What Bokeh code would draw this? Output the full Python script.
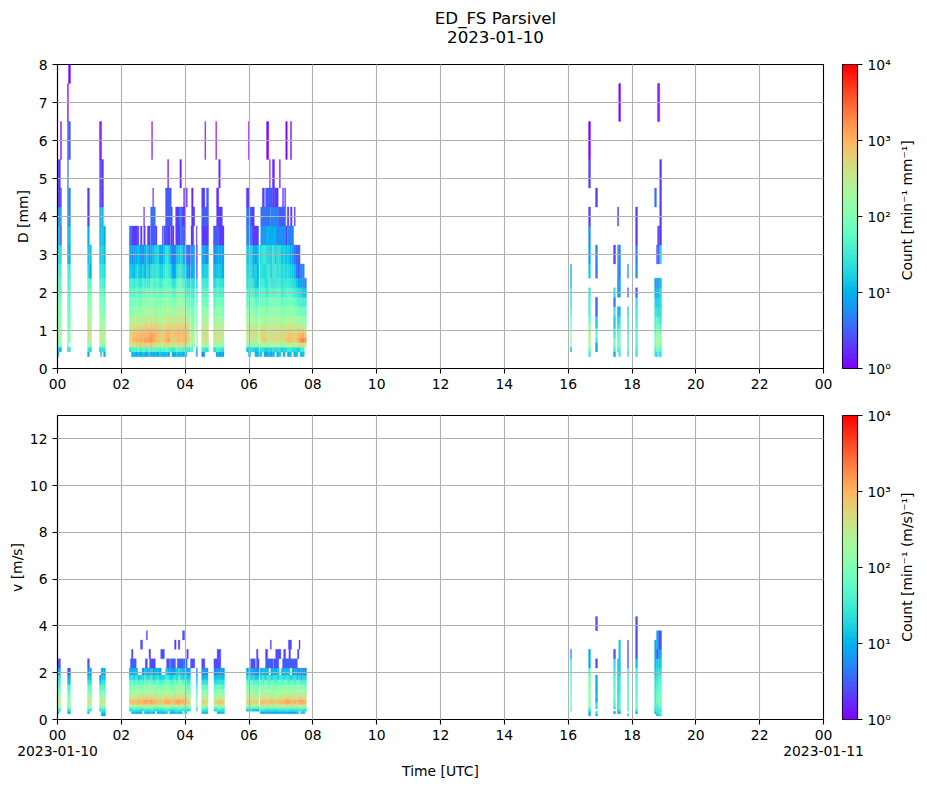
import math
import numpy as np
from bokeh.plotting import figure
from bokeh.layouts import column, row
from bokeh.models import LogColorMapper, LinearColorMapper, FixedTicker, Label, ColumnDataSource, Range1d
from bokeh.embed import file_html
from bokeh.resources import INLINE

# ---- bin edges (mm and m/s) and axis labels ----
d_edges = [0.312,0.437,0.562,0.687,0.812,0.937,1.062,1.187,1.375,1.625,1.875,2.125,2.375,2.75,3.25,3.75,4.25,4.75,5.5,6.5,7.5,8.5]
v_edges = [0.05,0.15,0.25,0.35,0.45,0.55,0.65,0.75,0.85,0.95,1.1,1.3,1.5,1.7,1.9,2.2,2.6,3.0,3.4,3.8,4.4]
x_hours = [0,2,4,6,8,10,12,14,16,18,20,22,24]
d_ticks = [0,1,2,3,4,5,6,7,8]
v_ticks = [0,2,4,6,8,10,12]
cb_ticks = [1,10,100,1000,10000]
cb_labels = ["10\u2070","10\u00b9","10\u00b2","10\u00b3","10\u2074"]

# ---- D panel: 02-04 UTC block, column start minute + counts from the lowest bin up ----
d_main_t = [135,139,143,147,151,155,159,163,167,171,175,179,183,187,191,195,199,203,207,211,215,219,223,227,231,235,239,243]
d_main_end = 247
d_main = [
[0,25,300,500,450,400,300,180,110,70,45,30,14,8],
[9,35,400,800,700,600,400,250,130,90,60,35,12,6],
[10,45,500,1000,800,700,450,280,140,80,45,25,10,7],
[7,40,450,1100,900,600,500,300,170,100,70,40,20,9],
[12,60,500,900,1000,650,400,260,150,110,60,30,16,12],
[8,35,600,1200,800,700,420,240,130,70,50,25,12,7],
[14,50,400,1000,900,750,500,320,180,120,70,45,18,6],
[9,45,700,1400,1100,800,550,300,190,100,55,30,10,9],
[7,30,500,1300,1000,900,600,350,170,110,80,35,22,14],
[16,55,600,1500,1200,900,500,330,200,120,60,28,12,6],
[10,40,800,1600,1400,1000,650,400,210,130,90,55,25,9],
[8,50,500,1300,1300,850,550,300,180,110,60,40,24,12],
[12,45,400,900,900,800,500,280,160,90,70,45,28,18],
[9,60,350,700,800,700,480,300,200,130,85,60,30,22],
[14,35,300,600,650,600,450,260,150,100,60,30,18,9],
[11,50,280,550,600,600,400,250,170,120,70,35,15,7],
[9,40,400,800,700,550,420,280,180,110,90,55,26,14],
[13,65,550,1100,1000,800,500,350,240,150,100,60,35,25],
[8,45,500,1300,1100,950,600,380,220,130,80,50,30,20],
[0,35,350,800,800,700,550,330,200,130,85,45,20,10],
[10,28,300,600,650,600,480,280,180,100,55,25,8,4],
[9,40,300,550,700,650,500,300,170,90,50,25,9,5],
[14,55,400,800,900,850,600,380,230,140,90,50,22,12],
[9,45,450,900,1000,800,600,400,250,170,110,70,35,14],
[12,40,400,800,850,700,550,360,220,150,100,60,28,18],
[8,35,500,1000,900,800,600,350,200,130,80,45,20,10],
[10,40,450,900,1000,850,650,400,240,130,70,35,12,5],
[0,30,300,700,700,600,450,260,130,70,40,22,8,4],
]
# ---- D panel: 06-08 UTC block, before and after the short break ----
d_six_a_t = [355,359,363,367,371,375]
d_six_a_end = 378.5
d_six_a = [
[0,15,120,250,350,300,250,180,110,60,40,25,20,15],
[9,12,150,300,400,350,280,200,130,70,45,28,14,10],
[0,20,130,350,450,400,300,220,140,90,50,30,22,18],
[0,18,120,300,400,420,320,210,120,75,40,22,12,9],
[11,15,140,300,380,360,270,180,100,60,30,14,18,8],
[10,14,100,220,300,280,240,170,100,50,30,12,10,12],
]
d_six_b_t = [380,384,388,392,396,400,404,408,412,416,420,424,428,432,436,440,444,448,452,456,460,464]
d_six_b_end = 468
d_six_b = [
[12,20,180,450,500,450,350,200,130,80,50,30,25,18],
[0,25,200,600,600,450,300,200,120,70,50,35,22,25],
[10,18,220,700,550,400,320,220,140,85,60,28,20,30],
[9,15,180,500,450,380,280,170,110,60,30,22,28,22],
[12,20,160,450,400,350,260,180,120,70,45,35,30,18],
[8,16,170,400,450,400,300,210,130,90,55,30,18,16],
[11,22,180,500,480,420,300,200,120,75,40,25,26,28],
[0,18,190,550,500,400,280,190,120,70,50,28,30,15],
[9,20,160,450,420,380,270,200,140,80,55,30,22,20],
[14,25,190,500,480,420,320,230,130,85,60,35,28,24],
[0,15,150,400,450,420,300,220,110,60,35,25,20,14],
[11,20,170,450,500,450,330,200,120,70,40,30,24,18],
[0,18,200,650,600,420,300,180,110,70,45,28,18,12],
[10,25,220,800,750,550,380,220,130,85,55,30,20,14],
[12,30,250,900,800,600,400,250,150,90,50,25,15,10],
[0,22,230,800,750,520,360,230,130,75,40,22,14,8],
[10,20,200,600,550,450,300,190,110,60,30,20,12,4],
[13,18,220,700,600,420,320,180,100,55,30,14,4,3],
[0,15,300,1200,900,500,300,170,90,40,25,10,3,3],
[11,30,400,1800,1000,500,280,150,70,40,20,8,5,0],
[13,30,500,2200,1300,600,300,150,80,35,15,7,5,0],
[0,0,300,1500,700,350,220,130,60,30,12,5,0,0],
]

# ---- D panel: short episodes, [start minute, end minute], counts from lowest bin up ----
d_short_t0 = [0.6,2.5,5.6,18.8,20.6,56.4,60,79,81,82.7,86.5,247,251,255,261,271,277,293,298,303,308,964.4,998.3,1011.4,1045.3,1052.8,1055,1071.6,1086.7,1122.4,1126,1128,1130,1132]
d_short_t1 = [2.5,5.6,7.5,20.6,24.4,60,64,81,82.7,86.5,90.3,250,255,258,263,277,284,298,303,308,313,966.3,1002,1015.2,1049,1055,1058.5,1073.5,1090.4,1126,1128,1130,1132,1135.6]
d_short = [
[9,25,120,200,220,200,180,150,120,90,70,60,45,25,12,8,2,2],
[0,12,100,180,200,180,150,130,110,90,70,55,40,22,14,7,2,2],
[0,10,80,120,140,120,110,100,80,70,50,45,30,18,2,6,2,0,1],
[0,20,60,100,100,90,80,70,60,55,45,40,30,9,9,5,5,4,3,1],
[0,25,0,100,120,110,90,80,70,60,50,40,30,10,12,6,5,0,3,0,1],
[10,30,150,300,400,400,300,250,180,120,80,60,25,14,10,2,2],
[0,20,120,250,350,300,250,200,150,110,80,50,9,14],
[0,8,130,220,260,220,170,130,100,70,50,35,20,10,8,6,2,2,1],
[9,30,150,300,350,300,220,160,110,80,60,40,25,15,10,12,2,2,1],
[0,20,130,280,300,260,200,160,120,90,65,40,25,18,15,12,2,2],
[10,25,100,200,250,220,180,130,100,70,50,30,20,12,9],
[0,28,150,350,350,300,250,180,100,60,35,20,5,3],
[0,40,120,250,250,220,170,120,90,60,40,25,10,7],
[0,0,100,200,220,180,140,110,80,50,30,20,8,6],
[5,10,100,180,150,130,110,90,70,50,30,15,3,2],
[6,30,200,400,400,350,300,200,130,80,50,35,15,9],
[0,25,180,400,450,400,300,220,130,70,50,30,18,6],
[0,22,150,300,350,320,240,170,110,60,40,20,12,6],
[9,40,180,350,400,350,280,200,130,80,50,30,14,8],
[9,30,160,350,400,330,280,180,120,75,45,25,15,9],
[8,22,120,260,300,280,230,160,100,70,40,22,10,7],
[0,10,100,150,170,130,70,50,30,20,20,10,8],
[30,60,200,250,250,200,150,60,40,40,30,0,15,8,6,2,0,2,1],
[0,8,8,30,60,60,15,15,3,3,0,0,4,5,0,0,2],
[8,30,70,70,30,30,15,15,30,4,25,0,0,2],
[0,20,50,40,30,20,12,8,4,0,3,3,4,5,0,2],
[30,50,90,90,80,70,40,25,12,0,10,9,5,5,0,0,0,0,0,1],
[18,25,35,35,30,25,25,20,15,0,3,0,6],
[25,30,40,50,50,50,40,35,30,25,3,0,6,5,2,2],
[30,40,80,100,80,60,50,40,30,20,12,8,0,0,0,0,4],
[15,80,200,200,180,120,80,60,25,12,10,6,0,3],
[0,60,150,200,150,100,60,40,15,15,9,5,0,3,2,0,0,0,0,1],
[20,60,150,180,150,100,60,35,20,15,10,7,0,2,2,0,0,0,0,1],
[25,50,120,150,120,90,50,30,25,20,20,12,0,20,2,2,2,2],
]

# ---- D panel: single high-bin streaks (bin index, start min, end min, count) ----
d_streaks = [
(14,135,139,4),(14,139,150,2),(14,150,153,2),(14,156,159,2),(14,162,165,2),(14,169,174,2),(14,175,184,3),(14,184,187,2),
(14,197,199,2),(14,200,206,3),(14,206,212,2),(14,213,216,2),(14,216,219,2),(14,222,231,2),(14,231,238,4),(14,238,241,2),
(14,251,256,2),(14,261,262.5,2),(14,271,284,2),(14,293,303,3),(14,303,313,2),
(15,162,163.5,1.5),(15,175,184,4),(15,203,216,3),(15,222,230,2),(15,230,233,5),(15,233,241,2),(15,252,258,2),(15,271,284,3),(15,299,310,2),
(16,179,180.5,1.5),(16,203,214,3),(16,237,239,1.5),(16,242,244,1.5),(16,252,255,1.5),(16,271,277,2),(16,280,284,3),(16,299,303,1.5),
(17,207,209,1.5),(17,230,233,1.5),(17,303,306,1.5),
(18,177,178.5,1),(18,277,278.5,1),(18,297.5,299,1),
(14,355,366,5),(14,366,378,2),(14,382,395,7),(14,395,410,9),(14,410,429,6),(14,429,432,2),(14,432,444,5),
(15,355,364,4),(15,364,370,2),(15,382,400,4),(15,400,415,5),(15,415,429,3),(15,432,435,2),(15,438,441,2),(15,445,447,2),
(16,355,361,2),(16,385,389,2),(16,391,404,3),(16,404,408,2),(16,408,415,2),(16,423,425,2),(16,427,429,2),
(17,398.5,400,1.5),(17,404,408,1.5),(17,417,419,1.5),
(18,359,361,1),(18,393,397,1),(18,429,432,1),(18,438,440,1),
]

# ---- v panel: 02-04 UTC block, counts from bin 2 (0.25 m/s) up to bin 14 ----
v_main_t = [135,139,143,147,151,155,159,163,167,171,175,179,183,187,191,195,199,203,207,211,215,219,223,227,231,235,239]
v_main_end = 243
v_main = [
[0,20,50,250,600,700,400,250,150,90,50,18,10],
[10,25,60,300,800,900,500,300,180,110,60,25,9],
[12,30,70,350,800,850,500,280,170,100,45,15,7],
[9,25,60,300,700,800,450,300,190,120,70,30,12],
[11,28,65,350,900,1000,550,320,200,120,40,14,0],
[10,22,55,280,700,800,500,260,160,100,60,20,0],
[0,25,70,400,1000,1100,600,340,190,110,45,20,6],
[12,30,80,450,1200,1200,650,360,200,130,70,35,12],
[9,26,60,350,1000,1300,700,380,220,130,50,18,10],
[11,24,70,400,1100,1200,600,340,190,120,65,22,8],
[13,30,75,420,1200,1400,700,400,220,140,70,30,14],
[10,25,60,380,1000,1000,600,340,180,110,40,14,7],
[0,22,55,300,800,800,500,300,170,110,60,22,10],
[9,26,60,280,700,800,480,280,180,120,70,28,12],
[12,24,50,250,600,650,420,260,170,100,40,16,6],
[9,20,50,250,600,700,450,260,160,100,45,16,0],
[11,28,70,350,900,900,500,300,190,130,50,18,0],
[13,30,80,450,1100,1200,650,350,220,140,80,35,15],
[0,28,70,400,1100,1100,600,340,210,130,70,30,10],
[10,24,60,300,800,850,500,300,180,110,45,14,8],
[9,22,50,280,700,800,480,260,150,90,50,20,6],
[12,25,60,350,900,1000,600,320,190,120,70,30,10],
[14,28,65,400,1100,1200,650,360,220,140,50,18,14],
[10,30,70,400,1200,1300,700,400,240,150,90,40,18],
[12,26,60,350,1000,1100,650,380,230,140,80,20,12],
[0,25,60,350,1000,1200,700,400,220,130,45,16,10],
[9,24,55,300,900,1000,600,340,190,110,60,22,8],
]
# ---- v panel: 06-08 UTC block, before and after the short break ----
v_six_a_t = [355,359,363,367,371,375]
v_six_a_end = 379
v_six_a = [
[0,12,50,200,450,500,350,220,150,100,60,18,8],
[0,14,55,250,500,550,380,240,170,110,45,30,10],
[0,16,60,280,550,600,400,260,160,100,60,16,9],
[0,12,50,260,500,550,350,230,150,90,40,22,7],
[0,14,55,250,500,550,350,220,140,90,50,14,6],
[0,10,45,200,400,450,300,190,120,80,40,15,5],
]
v_six_b_t = [381,385,389,393,397,401,405,409,413,417,421,425,429,433,437,441,445,449,453,457,461,465]
v_six_b_end = 468
v_six_b = [
[8,25,70,350,700,800,450,280,170,110,60,18,10],
[9,28,80,400,800,900,500,300,190,120,45,30,12],
[8,24,70,350,700,800,450,280,180,120,70,16,9],
[9,22,60,300,650,700,420,260,170,110,60,25,10],
[8,25,65,320,650,700,420,270,160,100,40,28,0],
[9,28,70,350,700,800,450,280,180,120,70,18,8],
[8,24,60,300,650,700,420,260,170,110,60,25,12],
[9,22,55,280,600,650,400,250,160,100,45,26,9],
[8,25,60,320,700,750,430,270,170,110,65,16,14],
[10,28,70,380,800,900,500,300,190,120,70,30,0],
[8,25,65,350,800,850,480,280,180,120,40,25,9],
[9,28,70,400,900,1000,550,320,200,130,70,18,12],
[8,30,80,450,1100,1300,650,360,210,130,70,28,10],
[9,28,75,420,1000,1100,600,340,200,120,45,26,12],
[8,25,65,380,900,1000,550,320,180,110,60,16,0],
[9,25,60,350,800,900,500,300,180,110,60,22,8],
[8,28,70,400,1000,1200,600,340,200,120,40,25,10],
[10,24,60,350,900,1000,550,320,190,110,55,14,7],
[0,25,70,400,1000,1300,650,360,200,110,55,20,6],
[14,30,80,450,1200,1300,650,340,190,100,35,12,8],
[12,25,70,400,1000,1100,600,320,170,90,45,18,6],
[0,20,55,300,800,800,450,260,150,80,40,15,5],
]

# ---- v panel: short episodes ----
v_short_t0 = [0.6,3,18.8,56.4,60,79,82,86,243,261,271,277,294,300,307,964.4,998.3,1011.4,1045.3,1052.8,1055,1071.6,1086.7,1122.4,1126,1130]
v_short_t1 = [3,5.6,24.4,60,64,82,86,90.3,250,263,277,283,300,307,314,966.3,1002,1015.2,1049,1055,1058.5,1073.5,1090.4,1126,1130,1135.6]
v_short = [
[0,0,9,25,80,200,350,350,250,150,90,60,40,25,10,2.5],
[0,0,0,20,70,180,300,300,200,120,80,50,30,20,8,2.5],
[0,0,10,25,70,120,150,150,120,80,60,40,12,8,3],
[0,0,12,30,100,200,350,350,250,160,100,60,25,12,6,2.5],
[0,0,0,25,80,180,300,300,220,130,80,50,22,12,9],
[0,0,0,20,60,200,300,250,180,120,70,40,12,6],
[0,9,14,30,80,250,350,350,220,140,90,50,25,14,9],
[0,9,12,25,60,180,250,250,200,120,70,45,25,12,10],
[0,0,0,20,60,250,500,450,300,180,100,60,30,15,8],
[0,0,0,20,30,80,120,120,90,60,40,30,15,8,5],
[0,0,12,30,70,300,600,600,350,220,120,60,25,10,6,2.5],
[0,0,12,25,60,250,500,500,300,180,100,55,25,12,6],
[0,0,0,20,50,200,400,400,250,150,100,60,22,12,5,2.5],
[0,0,10,30,80,350,700,700,400,250,130,70,25,14,6,2.5,2.5],
[0,0,12,25,60,250,600,600,300,180,100,50,25,12,8],
[0,0,0,30,40,60,60,60,60,50,50,40,40,40,35,25,5],
[0,10,10,25,50,90,110,140,150,130,120,110,100,80,60,10,10],
[0,12,25,0,25,25,25,8,6,12,10,10,9,8,0,2.5,0,0,0,2.5],
[0,0,8,0,20,40,50,50,60,60,60,50,50,40,30,25,2.5],
[0,0,8,10,15,15,15,15,15,12,12,12,12,12,12,8],
[0,0,8,30,50,50,50,45,40,40,35,30,30,25,15,15,15,15],
[0,8,0,30,35,40,40,40,35,35,35,30,30,30,25,2.5,2.5,2.5],
[0,0,8,35,50,60,60,60,60,60,50,50,45,40,40,12,2.5,2.5,2.5,2.5],
[0,0,10,25,30,35,40,40,35,30,30,25,25,20,15,12,10,10],
[0,10,20,35,30,40,60,70,70,60,50,40,30,25,20,15,2.5,10,8],
[0,25,40,30,50,60,80,90,90,80,70,60,50,40,25,15,9,2.5,2.5],
]

# ---- v panel: streaks (bin index, start min, end min, count) ----
v_streaks = [
(15,137,148,3),(15,165,169,2.5),(15,173,184,2.5),(15,205,211,2.5),(15,212,222,3),(15,225,237,3),(15,237,244,4),(15,250,258,2.5),
(16,139,142,2.5),(16,172,175,2),(16,194,201,2.5),(16,243,246,2),
(17,156,160,2.5),(17,220,223,2),(17,227,230,2),(18,167,169,2),(18,235,239,2.5),
(15,363,372,2.5),(15,374,379,2.5),(15,391,406,3),(15,407,416,2.5),(15,423,451,3),
(16,374,377,2.5),(16,391,395,2),(16,410,420,2.5),(16,425,429,2.5),(16,435,438,2),(16,451,454,2.5),
(17,400,402,2),(17,434,440,2.5),(17,454,456,2),
]


def rainbow(n):
    out = []
    for i in range(n):
        x = i / (n - 1)
        r = min(1.0, abs(2 * x - 0.5))
        g = math.sin(math.pi * x)
        b = math.cos(math.pi * x / 2)
        out.append("#%02x%02x%02x" % (round(r * 255), round(g * 255), round(max(b, 0) * 255)))
    return out


palette = rainbow(256)
mapper = LogColorMapper(palette=palette, low=1, high=10000)


def collect(edges, columns, streaks):
    left, right, bottom, top, count = [], [], [], [], []
    for t0, t1, counts, first in columns:
        for k, c in enumerate(counts):
            if c > 0:
                i = k + first
                left.append(t0); right.append(t1)
                bottom.append(edges[i]); top.append(edges[i + 1]); count.append(c)
    for i, t0, t1, c in streaks:
        left.append(t0); right.append(t1)
        bottom.append(edges[i]); top.append(edges[i + 1]); count.append(c)
    return ColumnDataSource(dict(left=left, right=right, bottom=bottom, top=top, count=count))


def table(ts, end, rows, first):
    stops = list(ts[1:]) + [end]
    return [(a, b, r, first) for a, b, r in zip(ts, stops, rows)]


FONT = "DejaVu Sans"
FS = "13.9px"


def style_axes(p):
    p.outline_line_color = "black"
    p.outline_line_width = 1.1
    for ax in list(p.xaxis) + list(p.yaxis):
        ax.major_tick_in = 0
        ax.major_tick_out = 5
        ax.major_tick_line_width = 1.1
        ax.minor_tick_line_color = None
        ax.axis_line_width = 1.1
        ax.major_label_text_font = FONT
        ax.major_label_text_font_size = FS
        ax.major_label_text_color = "black"
        ax.axis_label_text_font = FONT
        ax.axis_label_text_font_size = FS
        ax.axis_label_text_font_style = "normal"
        ax.axis_label_text_color = "black"


def panel(height, top_b, bottom_b, ymax, yticks, ylabel, source, standoff):
    p = figure(width=835, height=height, output_backend="svg", toolbar_location=None,
               x_range=(0, 1440), y_range=(0, ymax), min_border_left=57, min_border_right=12,
               min_border_top=top_b, min_border_bottom=bottom_b, background_fill_color="white",
               border_fill_color="white")
    p.quad(left="left", right="right", bottom="bottom", top="top", source=source,
           fill_color={"field": "count", "transform": mapper},
           line_color={"field": "count", "transform": mapper}, line_width=0.3)
    p.xaxis.ticker = FixedTicker(ticks=[h * 60 for h in x_hours], minor_ticks=[])
    p.xaxis.major_label_overrides = {h * 60: "%02d" % (h % 24) for h in x_hours}
    p.yaxis.ticker = FixedTicker(ticks=yticks, minor_ticks=[])
    p.yaxis.axis_label = ylabel
    p.yaxis.axis_label_standoff = standoff
    p.grid.level = "overlay"
    p.grid.grid_line_color = "#b0b0b0"
    p.grid.grid_line_width = 1.1
    style_axes(p)
    return p


def colorbar(height, top_b, bottom_b):
    c = figure(width=58, height=height, output_backend="svg", toolbar_location=None,
               x_range=(0, 1), y_range=(1, 10000), y_axis_type="log", y_axis_location="right",
               min_border_left=7, min_border_right=34, min_border_top=top_b, min_border_bottom=bottom_b,
               border_fill_color="white")
    ramp = np.arange(256, dtype=float).reshape(256, 1)
    c.image(image=[ramp], x=0, y=1, dw=1, dh=9999,
            color_mapper=LinearColorMapper(palette=palette, low=0, high=255))
    c.xaxis.visible = False
    c.grid.visible = False
    c.yaxis.ticker = FixedTicker(ticks=cb_ticks, minor_ticks=[])
    c.yaxis.major_label_overrides = dict(zip(cb_ticks, cb_labels))
    style_axes(c)
    return c


def text_strip(width, height, items, angle=0.0, size=FS):
    s = figure(width=width, height=height, output_backend="svg", toolbar_location=None,
               x_range=Range1d(0, width), y_range=Range1d(height, 0), min_border=0, outline_line_color=None)
    s.axis.visible = False
    s.grid.visible = False
    for text, x, y in items:
        s.add_layout(Label(x=x, y=y, text=text, angle=angle, text_font=FONT, text_font_size=size,
                           text_align="center", text_baseline="middle", text_color="black"))
    return s


d_source = collect(d_edges,
                   table(d_main_t, d_main_end, d_main, 0) + table(d_six_a_t, d_six_a_end, d_six_a, 0)
                   + table(d_six_b_t, d_six_b_end, d_six_b, 0)
                   + list(zip(d_short_t0, d_short_t1, d_short, [0] * len(d_short))),
                   d_streaks)
v_source = collect(v_edges,
                   table(v_main_t, v_main_end, v_main, 2) + table(v_six_a_t, v_six_a_end, v_six_a, 2)
                   + table(v_six_b_t, v_six_b_end, v_six_b, 2)
                   + list(zip(v_short_t0, v_short_t1, v_short, [0] * len(v_short))),
                   v_streaks)

title = text_strip(926, 54, [("ED_FS Parsivel", 495, 17), ("2023-01-10", 495, 36)], size="16.7px")
p1 = panel(338, 10, 24, 8, d_ticks, "D [mm]", d_source, 5)
p2 = panel(351, 23, 24, 13, v_ticks, "v [m/s]", v_source, 2)
c1 = colorbar(338, 10, 24)
c2 = colorbar(351, 23, 24)
side1 = text_strip(33, 338, [("Count [min\u207b\u00b9 mm\u207b\u00b9]", 13, 162)], angle=math.pi / 2)
side2 = text_strip(33, 351, [("Count [min\u207b\u00b9 (m/s)\u207b\u00b9]", 13, 175)], angle=math.pi / 2)
bottom = text_strip(926, 44, [("2023-01-10", 57, 7), ("2023-01-11", 823, 7), ("Time [UTC]", 440, 27)])

page = column(title, row(p1, c1, side1, spacing=0), row(p2, c2, side2, spacing=0), bottom, spacing=0)
open("out.html", "w").write(file_html(page, INLINE))
